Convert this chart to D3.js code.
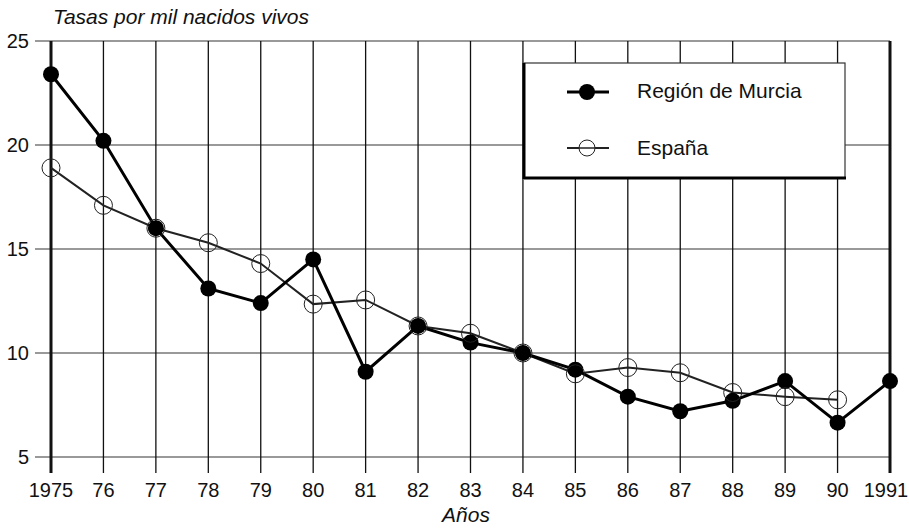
<!DOCTYPE html>
<html>
<head>
<meta charset="utf-8">
<script src="https://cdn.jsdelivr.net/npm/d3@7"></script>
<style>
  body { margin: 0; background: #fff; }
  svg { font-family: "Liberation Sans", Arial, sans-serif; }
</style>
</head>
<body>
<svg id="chart" width="909" height="530"></svg>
<script>
// data
const years = [1975, 1976, 1977, 1978, 1979, 1980, 1981, 1982, 1983, 1984, 1985, 1986, 1987, 1988, 1989, 1990, 1991];
const murcia = [23.4, 20.2, 16.0, 13.1, 12.4, 14.5, 9.1, 11.3, 10.5, 10.0, 9.2, 7.9, 7.2, 7.7, 8.65, 6.65, 8.65];
const espana = [18.9, 17.1, 16.0, 15.3, 14.3, 12.35, 12.55, 11.3, 10.95, 10.0, 9.0, 9.3, 9.05, 8.1, 7.9, 7.75, null];
const yTicks = [5, 10, 15, 20, 25];
const xTickLabels = ["1975", "76", "77", "78", "79", "80", "81", "82", "83", "84", "85", "86", "87", "88", "89", "90", "1991"];

const svg = d3.select("#chart");
const x = d3.scaleLinear().domain([1975, 1991]).range([51, 890]);
const y = d3.scaleLinear().domain([5, 25]).range([457, 41]);

// horizontal grid (grey)
svg.append("g").selectAll("line").data(yTicks).join("line")
  .attr("x1", 35).attr("x2", x(1991))
  .attr("y1", d => y(d)).attr("y2", d => y(d))
  .attr("stroke", "#777").attr("stroke-width", 1.5);

// vertical grid lines, extend below as ticks
svg.append("g").selectAll("line").data(years).join("line")
  .attr("x1", d => x(d)).attr("x2", d => x(d))
  .attr("y1", y(25)).attr("y2", y(5) + 16)
  .attr("stroke", "#111")
  .attr("stroke-width", d => (d === 1975 || d === 1991) ? 3 : 1.3);

// y tick labels
svg.append("g").selectAll("text").data(yTicks).join("text")
  .attr("x", 29).attr("y", d => y(d) + 7)
  .attr("text-anchor", "end")
  .attr("font-size", 20).attr("fill", "#111")
  .text(d => d);

// x tick labels
svg.append("g").selectAll("text").data(years).join("text")
  .attr("x", (d, i) => x(d) + (i === 16 ? -4 : 0)).attr("y", 497)
  .attr("text-anchor", "middle")
  .attr("font-size", 20).attr("fill", "#111")
  .text((d, i) => xTickLabels[i]);

// titles
svg.append("text").attr("x", 53).attr("y", 24)
  .attr("font-size", 21).attr("font-style", "italic").attr("fill", "#111")
  .text("Tasas por mil nacidos vivos");
svg.append("text").attr("x", 466).attr("y", 522)
  .attr("text-anchor", "middle")
  .attr("font-size", 21).attr("font-style", "italic").attr("fill", "#111")
  .text("Años");

const line = d3.line()
  .defined(d => d[1] != null)
  .x(d => x(d[0])).y(d => y(d[1]));

const espPts = years.map((yr, i) => [yr, espana[i]]);
const murPts = years.map((yr, i) => [yr, murcia[i]]);

svg.append("path").datum(espPts)
  .attr("d", line).attr("fill", "none")
  .attr("stroke", "#222").attr("stroke-width", 2);

svg.append("path").datum(murPts)
  .attr("d", line).attr("fill", "none")
  .attr("stroke", "#000").attr("stroke-width", 3);

svg.append("g").selectAll("circle").data(murPts).join("circle")
  .attr("cx", d => x(d[0])).attr("cy", d => y(d[1]))
  .attr("r", 8).attr("fill", "#000");

svg.append("g").selectAll("circle").data(espPts.filter(d => d[1] != null)).join("circle")
  .attr("cx", d => x(d[0])).attr("cy", d => y(d[1]))
  .attr("r", 9).attr("fill", "none")
  .attr("stroke", "#222").attr("stroke-width", 1);

// legend
const lg = svg.append("g");
lg.append("rect").attr("x", 524).attr("y", 63).attr("width", 321).attr("height", 115)
  .attr("fill", "#fff").attr("stroke", "#333").attr("stroke-width", 1.2);
lg.append("line").attr("x1", 524).attr("x2", 524).attr("y1", 63).attr("y2", 179)
  .attr("stroke", "#000").attr("stroke-width", 3);
lg.append("line").attr("x1", 524).attr("x2", 846).attr("y1", 178).attr("y2", 178)
  .attr("stroke", "#000").attr("stroke-width", 3);

lg.append("line").attr("x1", 567).attr("x2", 609).attr("y1", 92).attr("y2", 92)
  .attr("stroke", "#000").attr("stroke-width", 3);
lg.append("circle").attr("cx", 587).attr("cy", 92).attr("r", 8).attr("fill", "#000");
lg.append("text").attr("x", 637).attr("y", 98).attr("font-size", 21).attr("fill", "#111")
  .text("Región de Murcia");

lg.append("line").attr("x1", 567).attr("x2", 609).attr("y1", 148).attr("y2", 148)
  .attr("stroke", "#222").attr("stroke-width", 2);
lg.append("circle").attr("cx", 587).attr("cy", 148).attr("r", 8)
  .attr("fill", "#fff").attr("stroke", "#222").attr("stroke-width", 1);
lg.append("line").attr("x1", 579).attr("x2", 595).attr("y1", 148).attr("y2", 148)
  .attr("stroke", "#222").attr("stroke-width", 1.5);
lg.append("text").attr("x", 637).attr("y", 155).attr("font-size", 21).attr("fill", "#111")
  .text("España");
</script>
</body>
</html>
